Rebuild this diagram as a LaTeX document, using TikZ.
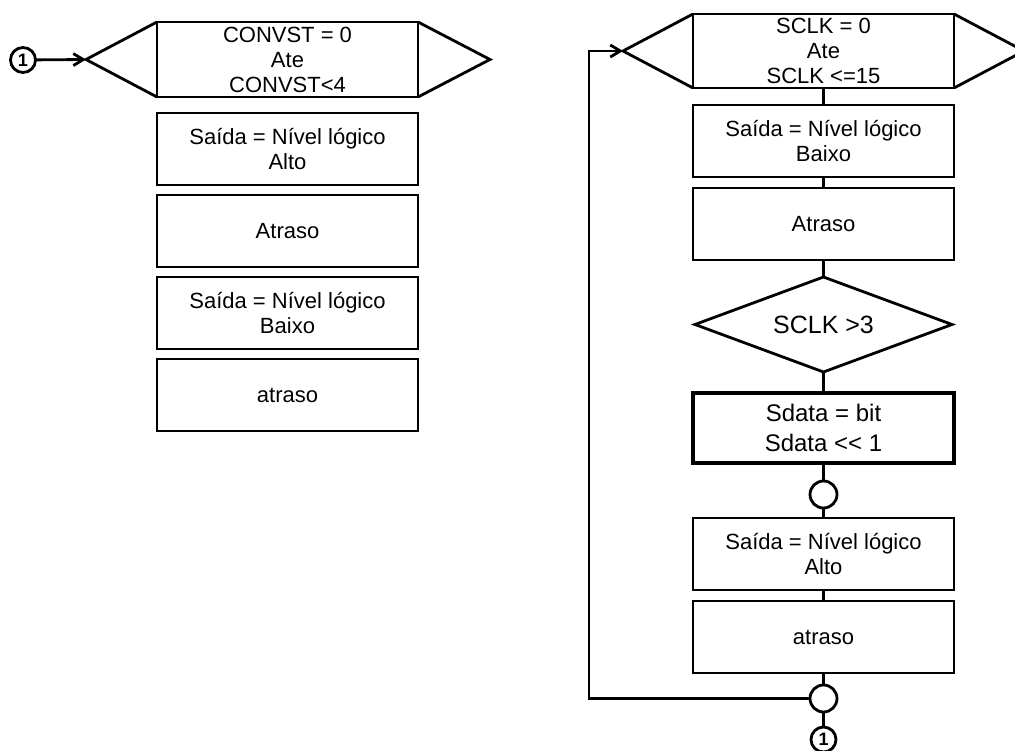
\documentclass[tikz,border=0pt]{standalone}
\usepackage{fontspec}
\setmainfont{Liberation Sans}
\usetikzlibrary{arrows.meta,shapes.geometric,positioning}

\begin{document}
\begin{tikzpicture}[
  x=1pt, y=-1pt, line width=2.8pt,
  every node/.style={outer sep=0pt},
  caixa/.style={draw, minimum width=261pt, minimum height=#1, align=center,
                inner sep=1pt, font=\fontsize{22}{25}\selectfont},
  caixa/.default=72pt,
  juncao/.style={draw, circle, minimum size=27pt, inner sep=0pt},
  conector/.style={juncao, minimum size=25pt, font=\fontsize{18}{18}\selectfont\bfseries},
  arr/.style={-{Straight Barb[length=10pt, width=12pt]}}
]
  \clip (0,0) rectangle (1015,751);

  % Coluna esquerda
  \node[caixa=75pt] (conv) at (287.5,59.5) {CONVST = 0\\Ate\\CONVST<4};
  \node[caixa, below=16pt of conv] (saidaA) {Saída = Nível lógico\\Alto};
  \node[caixa, below=10pt of saidaA] (atrasoA) {Atraso};
  \node[caixa, below=10pt of atrasoA] (saidaB) {Saída = Nível lógico\\Baixo};
  \node[caixa, below=10pt of saidaB] (atrasoB) {atraso};

  \coordinate (convL) at ([xshift=-71pt]conv.west);
  \coordinate (convR) at ([xshift=72pt]conv.east);
  \draw (conv.north west) -- (convL) -- (conv.south west);
  \draw (conv.north east) -- (convR) -- (conv.south east);

  \node[conector] (ini) at (23,60) {1};
  \draw[arr] (ini) -- (convL);

  % Coluna direita
  \node[caixa=74pt] (sclk) at (823.5,51) {SCLK = 0\\Ate\\SCLK <=15};
  \node[caixa, below=17pt of sclk] (saidaC) {Saída = Nível lógico\\Baixo};
  \node[caixa, below=11pt of saidaC] (atrasoC) {Atraso};
  \node[draw, diamond, aspect=2.7, minimum width=257pt, minimum height=95pt,
        font=\fontsize{25}{30}\selectfont, below=17pt of atrasoC] (teste) {SCLK >3};
  \node[caixa=70pt, line width=3.2pt, font=\fontsize{24}{30}\selectfont,
        below=21pt of teste] (sdata) {Sdata = bit\\Sdata <{}< 1};
  \node[juncao, below=18pt of sdata] (juncA) {};
  \node[caixa, below=10pt of juncA] (saidaD) {Saída = Nível lógico\\Alto};
  \node[caixa, below=11pt of saidaD] (atrasoD) {atraso};
  \node[juncao, below=12pt of atrasoD] (juncB) {};
  \node[conector, below=15pt of juncB] (fim) {1};

  \coordinate (sclkL) at ([xshift=-70pt]sclk.west);
  \coordinate (sclkR) at ([xshift=70pt]sclk.east);
  \draw (sclk.north west) -- (sclkL) -- (sclk.south west);
  \draw (sclk.north east) -- (sclkR) -- (sclk.south east);

  \foreach \a/\b in {sclk/saidaC, saidaC/atrasoC, atrasoC/teste, teste/sdata,
                     sdata/juncA, juncA/saidaD, saidaD/atrasoD, atrasoD/juncB, juncB/fim}
    \draw (\a.south) -- (\b.north);

  % Retorno do laco
  \draw[arr] (juncB.west) -| ([xshift=-34pt]sclkL) -- (sclkL);
\end{tikzpicture}
\end{document}
